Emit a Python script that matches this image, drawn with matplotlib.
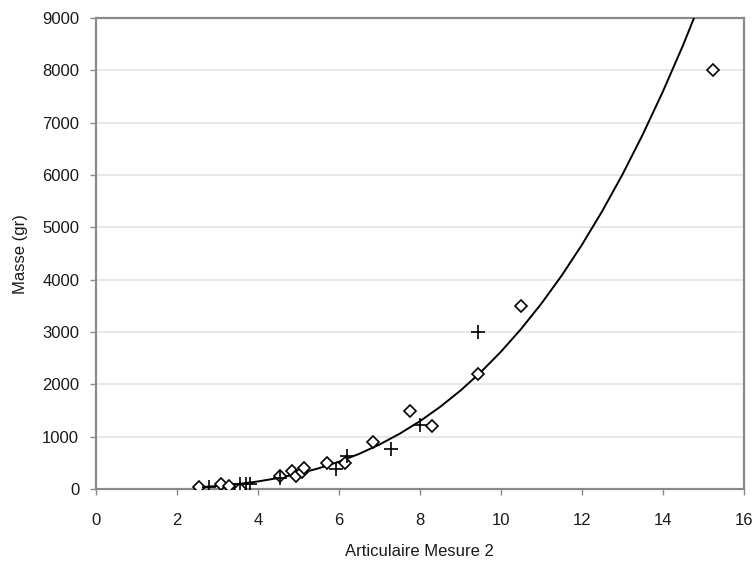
import numpy as np
import matplotlib
matplotlib.use("Agg")
import matplotlib.pyplot as plt

# diamonds (series 1)
x_diam = [2.55, 3.1, 3.3, 3.55, 4.55, 4.85, 4.95, 5.1, 5.15, 5.7, 6.15, 6.85, 7.75, 8.3, 9.45, 10.5, 15.25]
y_diam = [30, 100, 50, 0, 250, 350, 250, 320, 400, 500, 500, 900, 1500, 1200, 2200, 3500, 8000]

# crosses (series 2)
x_plus = [2.8, 3.55, 3.7, 3.8, 4.55, 5.92, 6.2, 7.3, 8.0, 9.45]
y_plus = [30, 100, 100, 100, 220, 390, 630, 770, 1230, 3000]

# trend curve
x_trend = [2.5, 3.0, 3.5, 4.0, 4.5, 5.0, 5.5, 6.0, 6.5, 7.0, 7.5, 8.0, 8.5, 9.0, 9.5,
           10.0, 10.5, 11.0, 11.5, 12.0, 12.5, 13.0, 13.5, 14.0, 14.5, 15.0]
y_trend = [33, 58, 95, 145, 210, 293, 396, 522, 672, 849, 1056, 1295, 1569, 1879, 2229,
           2621, 3058, 3541, 4075, 4662, 5304, 6003, 6765, 7590, 8478, 9440]

x_ticks = [0, 2, 4, 6, 8, 10, 12, 14, 16]
y_ticks = [0, 1000, 2000, 3000, 4000, 5000, 6000, 7000, 8000, 9000]

plt.rcParams["font.family"] = ["Liberation Sans", "DejaVu Sans"]

fig = plt.figure(figsize=(7.55, 5.68), dpi=100)
ax = fig.add_axes([0.127, 0.139, 0.858, 0.829])

ax.plot(x_trend, y_trend, color="black", lw=1.4, zorder=3, clip_on=True)
ax.plot(x_diam, y_diam, linestyle="none", marker="D", ms=6.3, mfc="white",
        mec="black", mew=1.2, zorder=4)
ax.plot(x_plus, y_plus, linestyle="none", marker="+", ms=10, mec="black",
        mew=1.2, zorder=4)

ax.set_xlim(0, 16)
ax.set_ylim(0, 9000)
ax.set_xticks(x_ticks)
ax.set_yticks(y_ticks)
ax.yaxis.grid(True, color="#e4e4e4", lw=1.2)
ax.set_axisbelow(True)

for s in ax.spines.values():
    s.set_color("#8a8a8a")
    s.set_linewidth(1.6)

ax.tick_params(axis="both", colors="#8a8a8a", labelcolor="#1a1a1a",
               labelsize=12, length=4, width=1)
ax.tick_params(axis="x", pad=13)
ax.tick_params(axis="y", pad=8)

ax.set_xlabel("Articulaire Mesure 2", fontsize=12, color="#1a1a1a", labelpad=12)
ax.set_ylabel("Masse (gr)", fontsize=12, color="#1a1a1a", labelpad=10)

fig.savefig("out.png", dpi=100, facecolor="white")
